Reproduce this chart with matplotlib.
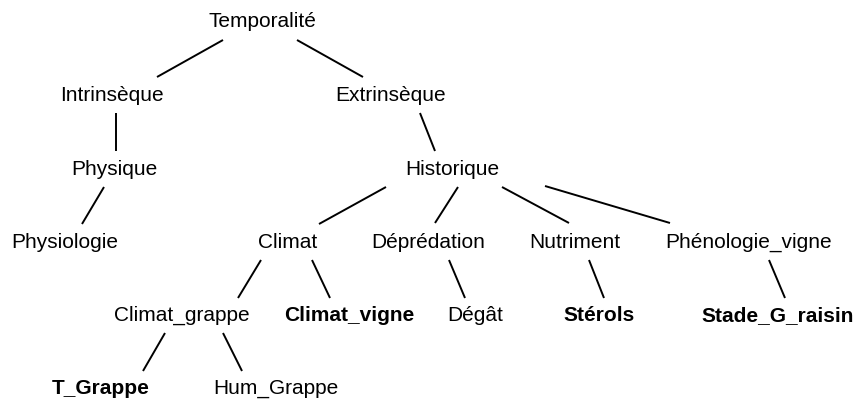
import matplotlib
matplotlib.use("Agg")
import matplotlib.pyplot as plt

plt.rcParams["font.family"] = ["Liberation Sans", "DejaVu Sans"]

# ---------------------------------------------------------------- data
# node labels, centre x (px), baseline y (px), bold flag
labels = ["Temporalité", "Intrinsèque", "Extrinsèque", "Physique", "Historique",
          "Physiologie", "Climat", "Déprédation", "Nutriment", "Phénologie_vigne",
          "Climat_grappe", "Climat_vigne", "Dégât", "Stérols", "Stade_G_raisin",
          "T_Grappe", "Hum_Grappe"]
node_x = [262, 112, 391, 114, 452,
          65, 288, 428, 575, 749,
          182, 349, 475, 599, 778,
          101, 276]
node_y = [27, 101, 101, 175, 175,
          248, 248, 248, 248, 248,
          321, 321, 321, 321, 321,
          394, 394]
bold = [False, False, False, False, False,
        False, False, False, False, False,
        False, True, False, True, True,
        True, False]

# edges: (x0, y0, x1, y1) in px
edge_x0 = [223, 297, 116, 420, 104, 386, 458, 502, 545, 261, 312, 449, 589, 769, 165, 223]
edge_y0 = [40, 40, 113, 113, 187, 187, 187, 187, 186, 260, 260, 260, 260, 260, 333, 333]
edge_x1 = [157, 363, 116, 435, 82, 319, 435, 569, 670, 238, 330, 465, 604, 785, 143, 242]
edge_y1 = [77, 77, 151, 151, 224, 224, 223, 223, 223, 298, 298, 298, 298, 298, 371, 371]

# ---------------------------------------------------------------- plot
fig = plt.figure(figsize=(8.58, 4.01), dpi=100)
ax = fig.add_axes([0, 0, 1, 1])
ax.set_xlim(0, 858)
ax.set_ylim(401, 0)
ax.axis("off")

for x0, y0, x1, y1 in zip(edge_x0, edge_y0, edge_x1, edge_y1):
    ax.plot([x0, x1], [y0, y1], color="black", linewidth=1.4,
            solid_capstyle="butt")

for lab, x, y, b in zip(labels, node_x, node_y, bold):
    ax.text(x, y, lab, ha="center", va="baseline", fontsize=15,
            fontweight="bold" if b else "normal", color="black")

fig.savefig("out.png", dpi=100, facecolor="white")
